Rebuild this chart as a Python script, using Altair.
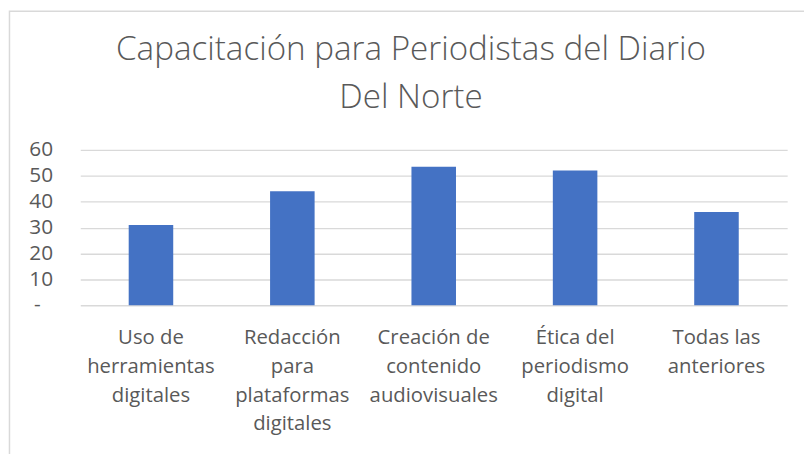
import altair as alt
import pandas as pd

categories = [
    "Uso de\nherramientas\ndigitales",
    "Redacción\npara\nplataformas\ndigitales",
    "Creación de\ncontenido\naudiovisuales",
    "Ética del\nperiodismo\ndigital",
    "Todas las\nanteriores",
]
values = [31, 44, 53.5, 52, 36]
y_ticks = [0, 10, 20, 30, 40, 50, 60]
title_text = "Capacitación para Periodistas del Diario\nDel Norte"

df = pd.DataFrame({"cat": categories, "val": values})
border_df = pd.DataFrame({"a": [0]})
title_df = pd.DataFrame({"t": [title_text]})
zero_df = pd.DataFrame({"lab": ["-"]})

TEXT = "#595959"
FONT = "Open Sans"

bars = alt.Chart(df).mark_bar(color="#4472C4").encode(
    x=alt.X(
        "cat:N",
        sort=categories,
        scale=alt.Scale(paddingInner=0.685, paddingOuter=0.3425, round=False),
        axis=alt.Axis(
            title=None,
            labelAngle=0,
            labelExpr="split(datum.label, '\\n')",
            labelFontSize=20.5,
            labelLineHeight=29,
            labelColor=TEXT,
            labelFont=FONT,
            labelPadding=23,
            ticks=False,
            domain=False,
            grid=False,
        ),
    ),
    y=alt.Y(
        "val:Q",
        scale=alt.Scale(domain=[0, 60], nice=False),
        axis=alt.Axis(
            title=None,
            values=y_ticks,
            labelExpr="datum.value == 0 ? '' : datum.label",
            labelFontSize=21,
            labelColor=TEXT,
            labelFont=FONT,
            labelPadding=28,
            labelOverlap=False,
            ticks=False,
            domain=False,
            grid=True,
            gridColor="#D9D9D9",
            gridWidth=1.3,
        ),
    ),
)

zero_label = alt.Chart(zero_df).mark_text(
    font=FONT, fontSize=21, color=TEXT, align="right", baseline="middle"
).encode(
    text="lab:N",
    x=alt.value(-40),
    y=alt.value(157),
)

border = alt.Chart(border_df).mark_rect(
    fill="white", fillOpacity=0, stroke="#D9D9D9", strokeWidth=1.5
).encode(
    x=alt.value(-71.5), x2=alt.value(830), y=alt.value(-140), y2=alt.value(420)
)

title = alt.Chart(title_df).mark_text(
    font=FONT,
    fontSize=33.5,
    fontWeight=300,
    color=TEXT,
    lineBreak="\n",
    lineHeight=49,
    align="center",
    baseline="middle",
).encode(
    text="t:N",
    x=alt.value(334),
    y=alt.value(-101),
)

chart = alt.layer(border, title, zero_label, bars).properties(
    width=714,
    height=157,
    autosize=alt.AutoSizeParams(type="none"),
    padding={"left": 73, "top": 141, "right": 17, "bottom": 148},
).configure_view(stroke=None)

chart.save("out.html", embed_options={"renderer": "svg", "actions": False})
